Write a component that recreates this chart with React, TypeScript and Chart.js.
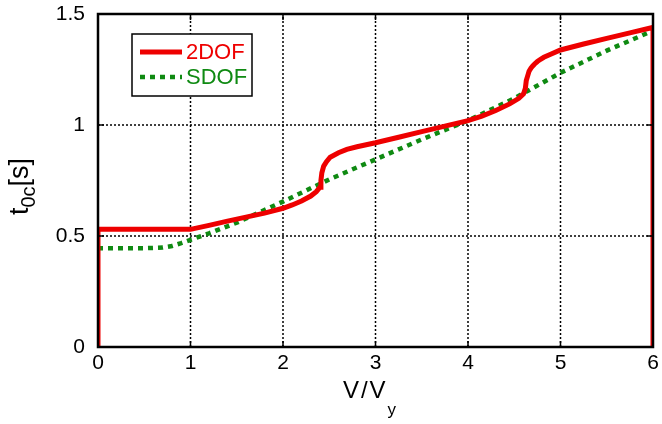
import { useEffect, useRef } from 'react';
import { Chart, registerables } from 'chart.js';

Chart.register(...registerables);

const FONT = '"Liberation Sans", Arial, sans-serif';
const RED = '#ee0000';
const GREEN = '#0f8a12';

const xTicks = [0, 1, 2, 3, 4, 5, 6];
const yTicks = [0, 0.5, 1, 1.5];

const seriesLabels = ['2DOF', 'SDOF'];

const xRed = [0, 0, 0.5, 1.0, 1.2, 1.4, 1.6, 1.8, 2.0, 2.1, 2.2, 2.3, 2.36, 2.4, 2.41, 2.42, 2.44, 2.47, 2.51, 2.6, 2.69, 2.8, 3.0, 3.25, 3.5, 3.75, 4.0, 4.15, 4.3, 4.45, 4.55, 4.6, 4.62, 4.63, 4.65, 4.66, 4.68, 4.7, 4.72, 4.75, 4.78, 4.82, 4.9, 5.0, 5.25, 5.5, 5.75, 6.0, 6.0];
const yRed = [0, 0.53, 0.53, 0.53, 0.548, 0.567, 0.585, 0.603, 0.625, 0.64, 0.658, 0.68, 0.70, 0.72, 0.75, 0.785, 0.815, 0.835, 0.855, 0.875, 0.89, 0.902, 0.92, 0.945, 0.97, 0.995, 1.02, 1.04, 1.065, 1.095, 1.12, 1.14, 1.165, 1.2, 1.228, 1.242, 1.256, 1.266, 1.275, 1.286, 1.295, 1.305, 1.32, 1.338, 1.365, 1.39, 1.415, 1.44, 0];

const xGreen = [0, 0.5, 0.7, 0.8, 0.9, 1.0, 1.2, 1.5, 2.0, 2.5, 3.0, 3.5, 4.0, 4.5, 5.0, 5.5, 6.0];
const yGreen = [0.445, 0.445, 0.448, 0.455, 0.468, 0.483, 0.512, 0.56, 0.655, 0.755, 0.845, 0.935, 1.02, 1.12, 1.235, 1.335, 1.425];

const framePlugin = {
  id: 'frame',
  beforeDatasetsDraw(chart: any) {
    const { ctx, chartArea: a, scales } = chart;
    ctx.save();
    ctx.strokeStyle = '#000';
    ctx.lineWidth = 1.5;
    ctx.setLineDash([2, 2]);
    xTicks.slice(1, -1).forEach((v) => {
      const px = scales.x.getPixelForValue(v);
      ctx.beginPath();
      ctx.moveTo(px, a.bottom);
      ctx.lineTo(px, a.top);
      ctx.stroke();
    });
    yTicks.slice(1, -1).forEach((v) => {
      const py = scales.y.getPixelForValue(v);
      ctx.beginPath();
      ctx.moveTo(a.left, py);
      ctx.lineTo(a.right, py);
      ctx.stroke();
    });
    ctx.restore();
  },
  afterDatasetsDraw(chart: any) {
    const { ctx, chartArea: a, scales, data } = chart;
    ctx.save();
    ctx.strokeStyle = '#000';
    ctx.setLineDash([]);
    ctx.lineWidth = 1.5;
    const tl = 6;
    xTicks.forEach((v) => {
      const px = scales.x.getPixelForValue(v);
      ctx.beginPath();
      ctx.moveTo(px, a.bottom);
      ctx.lineTo(px, a.bottom - tl);
      ctx.moveTo(px, a.top);
      ctx.lineTo(px, a.top + tl);
      ctx.stroke();
    });
    yTicks.forEach((v) => {
      const py = scales.y.getPixelForValue(v);
      ctx.beginPath();
      ctx.moveTo(a.left, py);
      ctx.lineTo(a.left + tl, py);
      ctx.moveTo(a.right, py);
      ctx.lineTo(a.right - tl, py);
      ctx.stroke();
    });
    ctx.lineWidth = 2.5;
    ctx.strokeRect(a.left, a.top, a.right - a.left, a.bottom - a.top);

    // legend
    const lx = 132, ly = 34, lw = 120, lh = 62;
    ctx.fillStyle = '#fff';
    ctx.fillRect(lx, ly, lw, lh);
    ctx.lineWidth = 1.5;
    ctx.strokeStyle = '#000';
    ctx.strokeRect(lx, ly, lw, lh);
    ctx.font = `22px ${FONT}`;
    ctx.textBaseline = 'middle';
    ctx.textAlign = 'left';
    data.datasets.forEach((ds: any, i: number) => {
      const yy = ly + 18 + i * 25;
      ctx.strokeStyle = ds.borderColor;
      ctx.lineWidth = ds.borderWidth;
      ctx.setLineDash(ds.borderDash || []);
      ctx.beginPath();
      ctx.moveTo(lx + 8, yy);
      ctx.lineTo(lx + 50, yy);
      ctx.stroke();
      ctx.setLineDash([]);
      ctx.fillStyle = ds.borderColor;
      ctx.fillText(ds.label, lx + 54, yy + 1);
    });
    ctx.restore();
  },
  afterDraw(chart: any) {
    const { ctx, chartArea: a } = chart;
    ctx.save();
    ctx.fillStyle = '#000';
    ctx.textAlign = 'left';
    ctx.textBaseline = 'alphabetic';
    // x title: V/V_y
    const mainX = `24px ${FONT}`;
    const subX = `17px ${FONT}`;
    const setLS = (v: string) => { try { (ctx as any).letterSpacing = v; } catch (e) {} };
    ctx.font = mainX;
    setLS('2px');
    const w1 = ctx.measureText('V/V').width;
    setLS('0px');
    ctx.font = subX;
    const w2 = ctx.measureText('y').width;
    const cx = (a.left + a.right) / 2 - 6;
    const sx = cx - (w1 + w2) / 2;
    ctx.font = mainX;
    setLS('2px');
    ctx.fillText('V/V', sx, 398);
    setLS('0px');
    ctx.font = subX;
    ctx.fillText('y', sx + w1, 415);

    // y title: t_0c[s]
    const mainY = `27px ${FONT}`;
    const subY = `20px ${FONT}`;
    ctx.font = mainY;
    const wt = ctx.measureText('t').width;
    const ws = ctx.measureText('[s]').width;
    ctx.font = subY;
    const wsub = ctx.measureText('0c').width;
    const total = wt + ws + wsub;
    const cy = (a.top + a.bottom) / 2 + 6;
    ctx.translate(28, cy);
    ctx.rotate(-Math.PI / 2);
    let tx = -total / 2;
    ctx.font = mainY;
    ctx.fillText('t', tx, 0);
    tx += wt;
    ctx.font = subY;
    ctx.fillText('0c', tx, 7);
    tx += wsub;
    ctx.font = mainY;
    ctx.fillText('[s]', tx, 0);
    ctx.restore();
  },
};

export default function App() {
  const ref = useRef<HTMLCanvasElement>(null);
  useEffect(() => {
    if (!ref.current) return;
    const chart = new Chart(ref.current, {
      type: 'line',
      data: {
        datasets: [
          {
            label: seriesLabels[0],
            data: xRed.map((x, i) => ({ x, y: yRed[i] })),
            borderColor: RED,
            backgroundColor: RED,
            borderWidth: 5,
            pointRadius: 0,
            tension: 0,
            clip: 0,
          },
          {
            label: seriesLabels[1],
            data: xGreen.map((x, i) => ({ x, y: yGreen[i] })),
            borderColor: GREEN,
            backgroundColor: GREEN,
            borderWidth: 4.5,
            borderDash: [5, 5],
            pointRadius: 0,
            tension: 0,
            clip: 0,
          },
        ],
      },
      options: {
        responsive: false,
        animation: false,
        devicePixelRatio: 1,
        layout: { padding: { top: 14, right: 9, left: 0, bottom: 0 } },
        plugins: { legend: { display: false }, tooltip: { enabled: false } },
        scales: {
          x: {
            type: 'linear',
            min: 0,
            max: 6,
            afterFit: (s: any) => { s.height = 77; s.paddingLeft = 0; s.paddingRight = 0; s.paddingTop = 0; s.paddingBottom = 0; },
            afterBuildTicks: (s: any) => { s.ticks = xTicks.map((v) => ({ value: v })); },
            grid: { display: false, drawTicks: false },
            border: { display: false },
            ticks: { color: '#000', font: { family: FONT, size: 21 }, padding: 4, callback: (v: any) => String(v) },
          },
          y: {
            type: 'linear',
            min: 0,
            max: 1.5,
            afterFit: (s: any) => { s.width = 98; s.paddingTop = 0; s.paddingBottom = 0; s.paddingLeft = 0; s.paddingRight = 0; },
            afterBuildTicks: (s: any) => { s.ticks = yTicks.map((v) => ({ value: v })); },
            grid: { display: false, drawTicks: false },
            border: { display: false },
            ticks: { color: '#000', font: { family: FONT, size: 21 }, padding: 13, callback: (v: any) => String(v) },
          },
        },
      },
      plugins: [framePlugin],
    } as any);
    return () => chart.destroy();
  }, []);
  return (
    <div style={{ position: 'absolute', left: 0, top: 0, width: 662, height: 424, background: '#fff' }}>
      <canvas ref={ref} width={662} height={424} style={{ display: 'block' }} />
    </div>
  );
}
